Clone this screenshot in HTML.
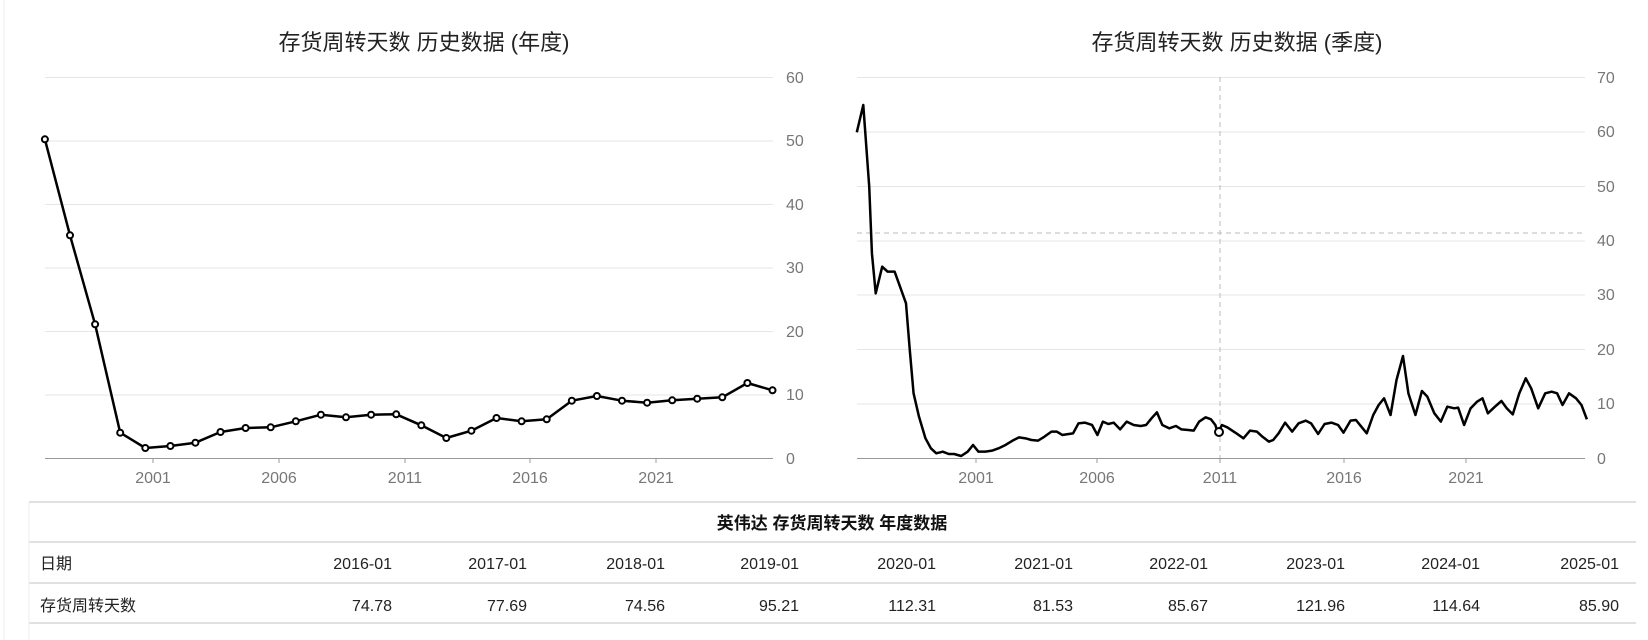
<!DOCTYPE html>
<html><head><meta charset="utf-8"><style>
html,body{margin:0;padding:0;background:#fff;width:1648px;height:640px;overflow:hidden;font-family:"Liberation Sans","Noto Sans CJK SC",sans-serif;}
svg{position:absolute;left:0;top:0}
</style></head><body>
<svg width="1648" height="640" viewBox="0 0 1648 640" font-family="Liberation Sans, Noto Sans CJK SC, sans-serif">
<line x1="4" y1="0" x2="4" y2="640" stroke="#eee" stroke-width="1"/>
<!-- titles -->
<text x="424" y="50" font-size="22" text-anchor="middle" fill="#222">存货周转天数 历史数据 (年度)</text>
<text x="1237" y="50" font-size="22" text-anchor="middle" fill="#222">存货周转天数 历史数据 (季度)</text>
<!-- left grid -->
<g stroke="#e6e6e6" stroke-width="1">
<line x1="45" y1="77.5" x2="773" y2="77.5"/><line x1="45" y1="141" x2="773" y2="141"/><line x1="45" y1="204.5" x2="773" y2="204.5"/><line x1="45" y1="268" x2="773" y2="268"/><line x1="45" y1="331.5" x2="773" y2="331.5"/><line x1="45" y1="395" x2="773" y2="395"/>
<line x1="857" y1="77.5" x2="1585" y2="77.5"/><line x1="857" y1="132" x2="1585" y2="132"/><line x1="857" y1="186.5" x2="1585" y2="186.5"/><line x1="857" y1="241" x2="1585" y2="241"/><line x1="857" y1="295" x2="1585" y2="295"/><line x1="857" y1="349.5" x2="1585" y2="349.5"/><line x1="857" y1="404" x2="1585" y2="404"/>
</g>
<line x1="45" y1="458.5" x2="773" y2="458.5" stroke="#999"/>
<line x1="857" y1="458.5" x2="1585" y2="458.5" stroke="#999"/>
<g stroke="#999"><line x1="153" y1="458" x2="153" y2="463"/><line x1="279" y1="458" x2="279" y2="463"/><line x1="405" y1="458" x2="405" y2="463"/><line x1="530" y1="458" x2="530" y2="463"/><line x1="656" y1="458" x2="656" y2="463"/>
<line x1="976" y1="458" x2="976" y2="463"/><line x1="1097" y1="458" x2="1097" y2="463"/><line x1="1220" y1="458" x2="1220" y2="463"/><line x1="1344" y1="458" x2="1344" y2="463"/><line x1="1466" y1="458" x2="1466" y2="463"/></g>
<g font-size="16" fill="#777">
<text x="786" y="83">60</text><text x="786" y="146">50</text><text x="786" y="210">40</text><text x="786" y="273">30</text><text x="786" y="337">20</text><text x="786" y="400">10</text><text x="786" y="464">0</text>
<text x="1597" y="83">70</text><text x="1597" y="137">60</text><text x="1597" y="192">50</text><text x="1597" y="246">40</text><text x="1597" y="300">30</text><text x="1597" y="355">20</text><text x="1597" y="409">10</text><text x="1597" y="464">0</text>
<g text-anchor="middle"><text x="153" y="483">2001</text><text x="279" y="483">2006</text><text x="405" y="483">2011</text><text x="530" y="483">2016</text><text x="656" y="483">2021</text>
<text x="976" y="483">2001</text><text x="1097" y="483">2006</text><text x="1220" y="483">2011</text><text x="1344" y="483">2016</text><text x="1466" y="483">2021</text></g>
</g>
<!-- left series -->
<polyline fill="none" stroke="#000" stroke-width="2.5" stroke-linejoin="round" points="44.9,139.3 70,235.3 95.1,324.3 120.2,432.7 145.3,448 170.4,446 195.4,442.7 220.5,432 245.6,428 270.7,427.3 295.8,421.3 320.9,414.7 346,417.3 371.1,414.7 396.2,414.3 421.3,425.3 446.3,438 471.4,430.7 496.5,418 521.6,421.3 546.7,419.3 571.8,400.7 596.9,396 622,400.7 647.1,402.7 672.2,400.3 697.2,398.7 722.3,397.3 747.4,383 772.5,390.3"/>
<g fill="#fff" stroke="#000" stroke-width="2">
<circle cx="44.9" cy="139.3" r="3"/><circle cx="70" cy="235.3" r="3"/><circle cx="95.1" cy="324.3" r="3"/><circle cx="120.2" cy="432.7" r="3"/><circle cx="145.3" cy="448" r="3"/><circle cx="170.4" cy="446" r="3"/><circle cx="195.4" cy="442.7" r="3"/><circle cx="220.5" cy="432" r="3"/><circle cx="245.6" cy="428" r="3"/><circle cx="270.7" cy="427.3" r="3"/><circle cx="295.8" cy="421.3" r="3"/><circle cx="320.9" cy="414.7" r="3"/><circle cx="346" cy="417.3" r="3"/><circle cx="371.1" cy="414.7" r="3"/><circle cx="396.2" cy="414.3" r="3"/><circle cx="421.3" cy="425.3" r="3"/><circle cx="446.3" cy="438" r="3"/><circle cx="471.4" cy="430.7" r="3"/><circle cx="496.5" cy="418" r="3"/><circle cx="521.6" cy="421.3" r="3"/><circle cx="546.7" cy="419.3" r="3"/><circle cx="571.8" cy="400.7" r="3"/><circle cx="596.9" cy="396" r="3"/><circle cx="622" cy="400.7" r="3"/><circle cx="647.1" cy="402.7" r="3"/><circle cx="672.2" cy="400.3" r="3"/><circle cx="697.2" cy="398.7" r="3"/><circle cx="722.3" cy="397.3" r="3"/><circle cx="747.4" cy="383" r="3"/><circle cx="772.5" cy="390.3" r="3"/>
</g>
<!-- right crosshair -->
<line x1="1220" y1="77" x2="1220" y2="458" stroke="#bbb" stroke-dasharray="5,4"/>
<line x1="857" y1="233" x2="1585" y2="233" stroke="#bbb" stroke-dasharray="5,4"/>
<!-- right series -->
<g transform="translate(800,0) scale(0.5408,0.33333)">
<polyline fill="none" stroke="#000" stroke-width="2.5" vector-effect="non-scaling-stroke" stroke-linejoin="round" points="105,397 117,315 128,560 133,760 140,880 152,800 162,815 175,815 185,860 196,910 203,1050 210,1180 220,1250 232,1315 242,1345 252,1360 264,1355 275,1362 285,1362 298,1368 310,1355 320,1335 330,1355 343,1355 355,1352 367,1345 380,1335 393,1322 405,1312 417,1315 428,1320 440,1322 452,1310 465,1295 475,1295 485,1305 497,1302 505,1300 515,1270 527,1268 540,1275 550,1305 560,1265 570,1272 580,1268 592,1288 604,1265 617,1275 630,1278 640,1275 650,1255 660,1237 670,1275 683,1285 695,1278 705,1288 718,1290 728,1292 738,1265 750,1252 760,1258 768,1275 773,1300 780,1275 790,1282 805,1298 820,1315 832,1292 845,1295 855,1310 867,1325 875,1320 885,1300 897,1268 910,1295 922,1270 935,1262 945,1270 958,1302 970,1272 983,1268 995,1275 1005,1298 1018,1262 1028,1260 1038,1280 1048,1300 1060,1245 1070,1215 1080,1195 1092,1245 1103,1140 1115,1068 1125,1180 1138,1245 1150,1173 1160,1190 1173,1240 1185,1265 1197,1220 1210,1225 1217,1223 1228,1275 1240,1225 1252,1205 1262,1195 1272,1240 1285,1220 1297,1203 1307,1225 1318,1243 1330,1180 1342,1135 1352,1165 1365,1225 1378,1180 1390,1175 1400,1180 1410,1215 1422,1180 1435,1195 1445,1215 1455,1258"/>
</g>
<circle cx="1219" cy="432" r="4" fill="#fff" stroke="#000" stroke-width="2"/>
<!-- table -->
<g stroke="#e0e0e0" stroke-width="2">
<line x1="29" y1="502" x2="1636" y2="502"/><line x1="29" y1="542" x2="1636" y2="542"/><line x1="29" y1="583" x2="1636" y2="583"/><line x1="29" y1="623" x2="1636" y2="623"/>
</g>
<line x1="29" y1="502" x2="29" y2="640" stroke="#eee"/>
<text x="832" y="529" font-size="17" font-weight="bold" text-anchor="middle" fill="#111">英伟达 存货周转天数 年度数据</text>
<g font-size="16" fill="#222">
<text x="40" y="569">日期</text><text x="40" y="611">存货周转天数</text>
<g text-anchor="end">
<text x="392" y="569">2016-01</text><text x="527" y="569">2017-01</text><text x="665" y="569">2018-01</text><text x="799" y="569">2019-01</text><text x="936" y="569">2020-01</text><text x="1073" y="569">2021-01</text><text x="1208" y="569">2022-01</text><text x="1345" y="569">2023-01</text><text x="1480" y="569">2024-01</text><text x="1619" y="569">2025-01</text>
<text x="392" y="611">74.78</text><text x="527" y="611">77.69</text><text x="665" y="611">74.56</text><text x="799" y="611">95.21</text><text x="936" y="611">112.31</text><text x="1073" y="611">81.53</text><text x="1208" y="611">85.67</text><text x="1345" y="611">121.96</text><text x="1480" y="611">114.64</text><text x="1619" y="611">85.90</text>
</g></g>
</svg>
</body></html>
